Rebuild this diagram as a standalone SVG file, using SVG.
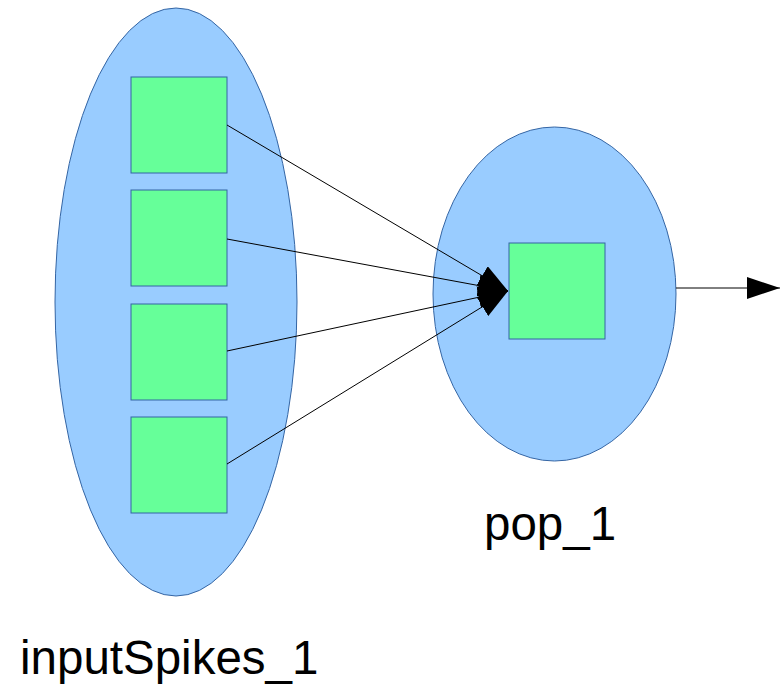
<svg xmlns="http://www.w3.org/2000/svg" width="781" height="684" viewBox="0 0 781 684">
<style>
.pop{fill:#99ccff;stroke:#3465a4;stroke-width:1}
.cell{fill:#66ff99;stroke:#3465a4;stroke-width:1}
.conn{stroke:#000;stroke-width:1;fill:none}
.lbl{font-family:"Liberation Sans",Arial,sans-serif;font-size:47.5px;fill:#000}
</style>
<defs>
<marker id="ah" viewBox="0 0 30 22" refX="30" refY="11" markerWidth="30" markerHeight="22" markerUnits="userSpaceOnUse" orient="auto">
<path d="M0,0 L30,11 L0,22 z" fill="#000"/>
</marker>
<marker id="ah2" viewBox="0 0 33 22" refX="33" refY="11" markerWidth="33" markerHeight="22" markerUnits="userSpaceOnUse" orient="auto">
<path d="M0,0 L33,11 L0,22 z" fill="#000"/>
</marker>
</defs>
<g id="inputSpikes_1">
<ellipse class="pop" cx="176" cy="302" rx="121" ry="294"/>
<rect class="cell" x="131" y="77" width="96" height="96"/>
<rect class="cell" x="131" y="190" width="96" height="96"/>
<rect class="cell" x="131" y="304" width="96" height="96"/>
<rect class="cell" x="131" y="417" width="96" height="96"/>
<text class="lbl" x="20" y="674">inputSpikes_1</text>
</g>
<g id="pop_1">
<ellipse class="pop" cx="554.5" cy="294" rx="121.5" ry="167"/>
<rect class="cell" x="509" y="243" width="96" height="96"/>
<text class="lbl" x="484" y="540">pop_1</text>
</g>
<g id="connectors">
<line class="conn" x1="227" y1="125" x2="508" y2="291" marker-end="url(#ah)"/>
<line class="conn" x1="227" y1="239" x2="508" y2="291" marker-end="url(#ah)"/>
<line class="conn" x1="227" y1="351" x2="508" y2="291" marker-end="url(#ah)"/>
<line class="conn" x1="227" y1="464" x2="508" y2="291" marker-end="url(#ah)"/>
<line class="conn" x1="676" y1="288" x2="780" y2="288" marker-end="url(#ah2)"/>
</g>
</svg>
